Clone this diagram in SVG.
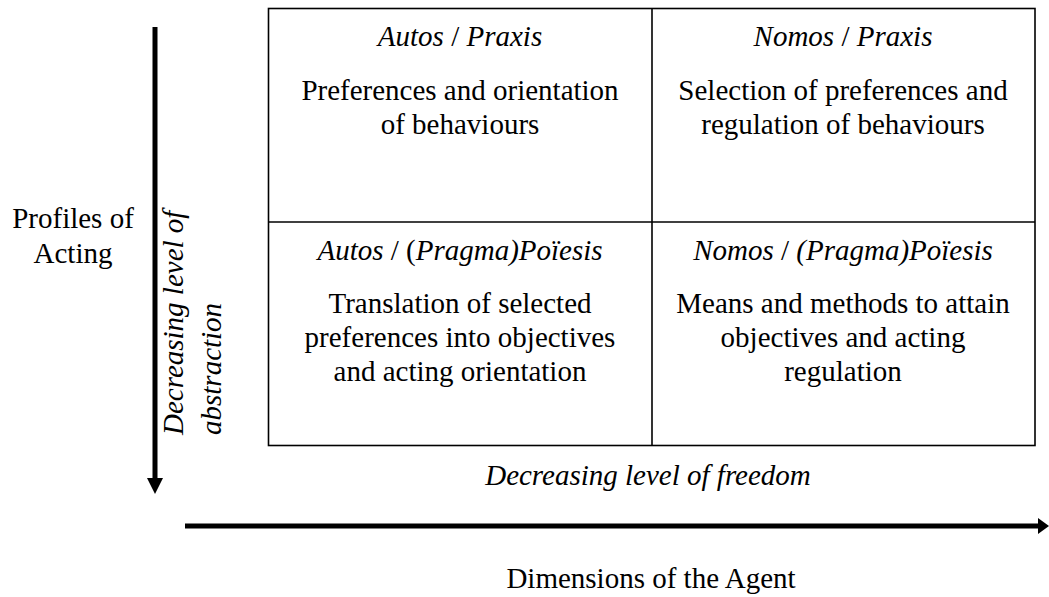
<svg xmlns="http://www.w3.org/2000/svg" width="1049" height="597" viewBox="0 0 1049 597">
<style>
text { font-family: "Liberation Serif", "Times New Roman", serif; font-size: 29px; fill: #000; }
.c { text-anchor: middle; }
.i { font-style: italic; }
.grid { fill: none; stroke: #000; stroke-width: 1.6; }
.axis { stroke: #000; stroke-width: 5; fill: none; }
.head { fill: #000; }
</style>
<rect width="1049" height="597" fill="#fff"/>
<g id="grid">
<rect class="grid" x="268.5" y="8.5" width="766.5" height="437"/>
<line class="grid" x1="652" y1="8.5" x2="652" y2="445.5"/>
<line class="grid" x1="268.5" y1="222" x2="1035" y2="222"/>
</g>
<g id="cell-autos-praxis">
<text class="c" x="460" y="46"><tspan class="i">Autos</tspan> / <tspan class="i">Praxis</tspan></text>
<text class="c" x="460" y="100">Preferences and orientation</text>
<text class="c" x="460" y="134">of behaviours</text>
</g>
<g id="cell-nomos-praxis">
<text class="c" x="843" y="46"><tspan class="i">Nomos</tspan> / <tspan class="i">Praxis</tspan></text>
<text class="c" x="843" y="100">Selection of preferences and</text>
<text class="c" x="843" y="134">regulation of behaviours</text>
</g>
<g id="cell-autos-poiesis">
<text class="c" x="460" y="260"><tspan class="i">Autos</tspan> / (<tspan class="i">Pragma)Poïesis</tspan></text>
<text class="c" x="460" y="313">Translation of selected</text>
<text class="c" x="460" y="347">preferences into objectives</text>
<text class="c" x="460" y="381">and acting orientation</text>
</g>
<g id="cell-nomos-poiesis">
<text class="c" x="843" y="260"><tspan class="i">Nomos</tspan> / <tspan class="i">(Pragma)Poïesis</tspan></text>
<text class="c" x="843" y="313">Means and methods to attain</text>
<text class="c" x="843" y="347">objectives and acting</text>
<text class="c" x="843" y="381">regulation</text>
</g>
<g id="label-profiles">
<text class="c" x="73" y="228">Profiles of</text>
<text class="c" x="73" y="263">Acting</text>
</g>
<g id="label-abstraction">
<text class="i" transform="translate(183,435) rotate(-90)">Decreasing level of</text>
<text class="i" transform="translate(221,435) rotate(-90)">abstraction</text>
</g>
<g id="label-freedom">
<text class="c i" x="648" y="485">Decreasing level of freedom</text>
</g>
<g id="label-dimensions">
<text class="c" x="651" y="588">Dimensions of the Agent</text>
</g>
<g id="connectors">
<line class="axis" x1="155" y1="27" x2="155" y2="480"/>
<polygon class="head" points="147,478 163,478 155,494"/>
<line class="axis" x1="185" y1="526" x2="1040" y2="526"/>
<polygon class="head" points="1038,518 1038,534 1049,526"/>
</g>
</svg>
